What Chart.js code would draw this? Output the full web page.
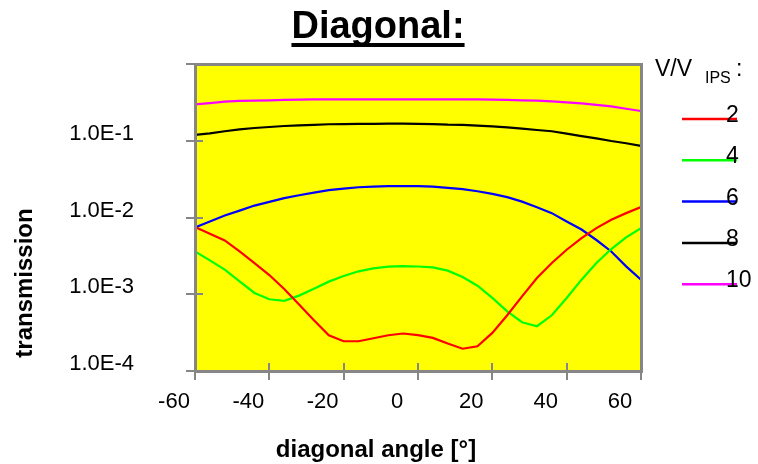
<!DOCTYPE html>
<html>
<head>
<meta charset="utf-8">
<script src="https://cdn.jsdelivr.net/npm/chart.js@4/dist/chart.umd.min.js"></script>
<style>
  html, body { margin: 0; padding: 0; background: #ffffff; }
  #wrap { width: 758px; height: 464px; position: relative; }
</style>
</head>
<body>
<div id="wrap"><canvas id="c" width="758" height="464"></canvas></div>
<script>
// Viewing angle along the diagonal, degrees
const angles = [-60, -56, -52, -48, -44, -40, -36, -32, -28, -24, -20, -16, -12, -8, -4, 0,
                4, 8, 12, 16, 20, 24, 28, 32, 36, 40, 44, 48, 52, 56, 60];

// Transmission for each drive level V/V_IPS
const trans2 = [0.0075, 0.00614, 0.00502, 0.00361, 0.00255, 0.00178, 0.00117, 0.000733, 0.000458, 0.000292,
                0.000244, 0.000244, 0.000267, 0.000292, 0.000308, 0.000294, 0.00027, 0.000228, 0.000195, 0.00021,
                0.000314, 0.000532, 0.00094, 0.00163, 0.00255, 0.0038, 0.0054, 0.00728, 0.00933, 0.0114, 0.01365];
const trans4 = [0.00361, 0.00276, 0.00209, 0.00147, 0.00104, 0.00086, 0.00082, 0.00096, 0.00118, 0.00146,
                0.00173, 0.00199, 0.00217, 0.00229, 0.00233, 0.0023, 0.00224, 0.00203, 0.00168, 0.00129,
                0.000895, 0.0006, 0.000432, 0.000383, 0.000532, 0.000895, 0.00155, 0.00255, 0.00388, 0.0055, 0.00728];
const trans6 = [0.0074, 0.00887, 0.0106, 0.0123, 0.0143, 0.016, 0.0179, 0.0195, 0.0211, 0.0227,
                0.0238, 0.0248, 0.0252, 0.0256, 0.0256, 0.0256, 0.0252, 0.0243, 0.0234, 0.022,
                0.0203, 0.0184, 0.0161, 0.0136, 0.0114, 0.00887, 0.00698, 0.00509, 0.00361, 0.00231, 0.00155];
const trans8 = [0.119, 0.125, 0.133, 0.141, 0.1465, 0.151, 0.1556, 0.159, 0.1607, 0.164,
                0.165, 0.166, 0.166, 0.167, 0.167, 0.166, 0.165, 0.162, 0.1607, 0.157,
                0.154, 0.1496, 0.1435, 0.138, 0.133, 0.1236, 0.115, 0.1076, 0.0993, 0.0927, 0.0855];
const trans10 = [0.298, 0.31, 0.323, 0.33, 0.333, 0.336, 0.34, 0.343, 0.346, 0.346,
                 0.346, 0.346, 0.346, 0.346, 0.346, 0.346, 0.346, 0.346, 0.346, 0.346,
                 0.343, 0.34, 0.336, 0.333, 0.326, 0.316, 0.307, 0.294, 0.281, 0.261, 0.244];

const seriesLabels = ['2', '4', '6', '8', '10'];
const seriesColors = ['#ff0000', '#00ff00', '#0000ff', '#000000', '#ff00ff'];
const seriesValues = [trans2, trans4, trans6, trans8, trans10];

const xTickValues = [-60, -40, -20, 0, 20, 40, 60];
const yTickValues = [1e-4, 1e-3, 1e-2, 1e-1];
const yTickMarks = [1e-4, 1e-3, 1e-2, 1e-1, 1];

const FONT = '"Liberation Sans", Arial, Helvetica, sans-serif';
const AXIS_GRAY = '#868686';

const datasets = seriesValues.map((vals, i) => ({
  label: seriesLabels[i],
  data: angles.map((a, j) => ({ x: a, y: vals[j] })),
  borderColor: seriesColors[i],
  backgroundColor: seriesColors[i],
  borderWidth: 2.2,
  pointRadius: 0,
  tension: 0,
  fill: false
}));

// Scales keep no extra edge padding so the plot box sits exactly inside the layout padding
function noEdgePadding(s) {
  s.paddingTop = 0; s.paddingBottom = 0; s.paddingLeft = 0; s.paddingRight = 0;
}

// Yellow plot background, frame, tick marks, titles and legend
const decorations = {
  id: 'decorations',
  beforeDatasetsDraw(chart) {
    const { ctx, chartArea: a } = chart;
    ctx.save();
    ctx.fillStyle = '#ffff00';
    ctx.fillRect(a.left, a.top, a.right - a.left, a.bottom - a.top);
    ctx.restore();
  },
  afterDatasetsDraw(chart) {
    const { ctx, chartArea: a, scales } = chart;
    ctx.save();
    // frame
    ctx.strokeStyle = AXIS_GRAY;
    ctx.lineWidth = 3;
    ctx.strokeRect(a.left + 0.5, a.top + 0.5, a.right - a.left, a.bottom - a.top);
    // tick marks crossing the axes
    ctx.lineWidth = 2;
    ctx.beginPath();
    xTickValues.forEach(v => {
      const px = Math.round(scales.x.getPixelForValue(v));
      ctx.moveTo(px, a.bottom - 8);
      ctx.lineTo(px, a.bottom + 9);
    });
    yTickMarks.forEach(v => {
      const py = Math.round(scales.y.getPixelForValue(v));
      ctx.moveTo(a.left - 9, py);
      ctx.lineTo(a.left + 8, py);
    });
    ctx.stroke();

    // chart title, underlined
    ctx.fillStyle = '#000';
    ctx.font = 'bold 38px ' + FONT;
    ctx.textAlign = 'center';
    ctx.textBaseline = 'alphabetic';
    const title = 'Diagonal:';
    const tcx = 378;
    ctx.fillText(title, tcx, 38);
    const tw = ctx.measureText(title).width;
    ctx.fillRect(tcx - tw / 2, 43, tw, 4);

    // axis titles
    ctx.font = 'bold 24px ' + FONT;
    ctx.textBaseline = 'middle';
    ctx.fillText('diagonal angle [°]', 376, 450);
    ctx.save();
    ctx.translate(25, 283);
    ctx.rotate(-Math.PI / 2);
    ctx.fillText('transmission', 0, 0);
    ctx.restore();

    // legend header: V/V with subscript IPS
    ctx.textAlign = 'left';
    ctx.textBaseline = 'alphabetic';
    ctx.font = '23px ' + FONT;
    ctx.fillText('V/V', 655, 76);
    ctx.font = '16px ' + FONT;
    ctx.fillText('IPS', 705, 83);
    ctx.font = '23px ' + FONT;
    ctx.fillText(':', 736, 76);

    // legend entries, label written over the line sample
    chart.data.datasets.forEach((ds, i) => {
      const ly = 119 + i * 41.3;
      ctx.strokeStyle = ds.borderColor;
      ctx.lineWidth = 2.5;
      ctx.beginPath();
      ctx.moveTo(682, ly);
      ctx.lineTo(737, ly);
      ctx.stroke();
      ctx.fillStyle = '#000';
      ctx.font = '23px ' + FONT;
      ctx.fillText(ds.label, 726, ly + 3);
    });
    ctx.restore();
  }
};

new Chart(document.getElementById('c'), {
  type: 'line',
  data: { datasets },
  options: {
    responsive: false,
    animation: false,
    devicePixelRatio: 1,
    layout: { padding: { top: 64, right: 117, left: 0, bottom: 0 } },
    plugins: { legend: { display: false }, tooltip: { enabled: false }, title: { display: false } },
    scales: {
      x: {
        type: 'linear',
        min: -60,
        max: 60,
        afterBuildTicks: s => { s.ticks = xTickValues.map(v => ({ value: v })); },
        afterFit: s => { s.height = 93; noEdgePadding(s); },
        grid: { display: false, drawTicks: false },
        border: { display: false },
        ticks: {
          color: '#000',
          font: { family: FONT, size: 22 },
          padding: 18,
          labelOffset: -21,
          maxRotation: 0,
          autoSkip: false,
          callback: v => String(v)
        }
      },
      y: {
        type: 'logarithmic',
        min: 1e-4,
        max: 1,
        afterBuildTicks: s => { s.ticks = yTickValues.map(v => ({ value: v })); },
        afterFit: s => { s.width = 195; noEdgePadding(s); },
        grid: { display: false, drawTicks: false },
        border: { display: false },
        ticks: {
          color: '#000',
          font: { family: FONT, size: 22 },
          padding: 61,
          labelOffset: -7,
          autoSkip: false,
          callback: v => Number(v).toExponential(1).toUpperCase()
        }
      }
    }
  },
  plugins: [decorations]
});
</script>
</body>
</html>
